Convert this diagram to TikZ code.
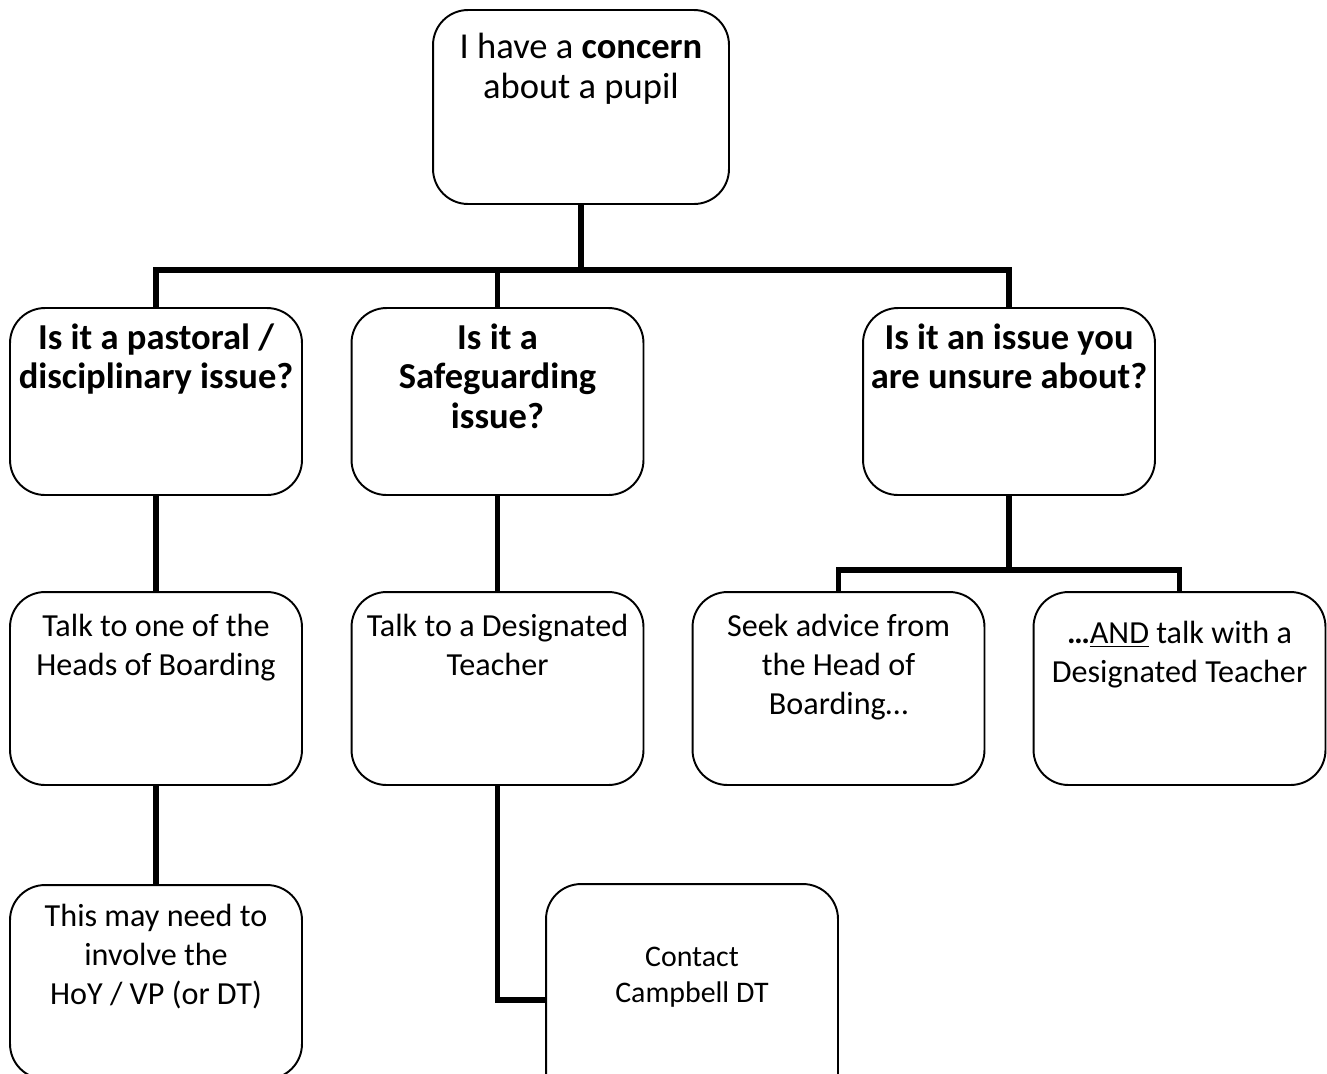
\documentclass[tikz,border=0pt]{standalone}
\usepackage{fontspec}
\setmainfont{Carlito}
\tikzset{
	box/.style={draw, line width=1.1pt, rounded corners=0.7cm, minimum width=5.84cm, inner sep=0pt},
	conn/.style={line width=3pt},
	txt/.style={anchor=north, align=center, inner sep=0pt, execute at begin node=\strut},
	small txt/.style={txt, font=\fontsize{18.3}{22.3}\selectfont}
}

\begin{document}
\begin{tikzpicture}[x=0.02cm, y=-0.02cm]
		\tikzstyle{every node}=[font=\fontsize{20.8}{22.6}\selectfont]
		\useasboundingbox (0,0) rectangle (1327,1073);
		\clip (0,0) rectangle (1327,1073);

		% Draw boxes
		\node[box, minimum width=5.92cm, minimum height=3.88cm] (concern) at (581,107) {};
		\node[box, minimum height=3.74cm] (pastoral) at (156,401.5) {};
		\node[box, minimum height=3.74cm] (safeg) at (497.5,401.5) {};
		\node[box, minimum height=3.74cm] (unsure) at (1009,401.5) {};
		\node[box, minimum height=3.86cm] (hob) at (156,688.5) {};
		\node[box, minimum height=3.86cm] (dt) at (497.5,688.5) {};
		\node[box, minimum height=3.86cm] (seek) at (838.5,688.5) {};
		\node[box, minimum height=3.86cm] (andtalk) at (1179.5,688.5) {};
		\node[box, minimum height=3.88cm] (hoy) at (156,982) {};
		\node[box, minimum height=4.64cm] (contact) at (692,1000) {};

		% Box texts
		\node[txt] (concern-t) at ([yshift=-0.48cm]concern.north) {I have a \textbf{concern}\\about a pupil};
		\node[txt] (pastoral-t) at ([yshift=-0.32cm]pastoral.north) {\bfseries Is it a pastoral /\\\bfseries disciplinary issue?};
		\node[txt] (safeg-t) at ([yshift=-0.32cm]safeg.north) {\bfseries Is it a\\\bfseries Safeguarding\\\bfseries issue?};
		\node[txt] (unsure-t) at ([yshift=-0.32cm]unsure.north) {\bfseries Is it an issue you\\\bfseries are unsure about?};
		\node[small txt] (hob-t) at ([yshift=-0.455cm]hob.north) {Talk to one of the\\Heads of Boarding};
		\node[small txt] (dt-t) at ([yshift=-0.455cm]dt.north) {Talk to a Designated\\Teacher};
		\node[small txt] (seek-t) at ([yshift=-0.455cm]seek.north) {Seek advice from\\the Head of\\Boarding…};
		\node[small txt] (andtalk-t) at ([yshift=-0.595cm]andtalk.north) {\textbf{…}\underline{AND} talk with a\\Designated Teacher};
		\node[small txt] (hoy-t) at ([yshift=-0.395cm]hoy.north) {This may need to\\involve the\\HoY / VP (or DT)};
		\node[txt, font=\fontsize{17}{20.2}\selectfont] (contact-t) at ([yshift=-1.28cm]contact.north) {Contact\\Campbell DT};

		% -----------------------------------------------------
		% Draw connectors
		\coordinate (split) at (581,270);
		\coordinate (split2) at (1009,570);
		\draw[conn] (concern.south) -- (split);
		\draw[conn] (pastoral.north) |- (split) -| (unsure.north);
		\draw[conn] (safeg.north) -- (safeg.north |- split);

		\draw[conn] (pastoral.south) -- (hob.north);
		\draw[conn] (safeg.south) -- (dt.north);
		\draw[conn] (unsure.south) -- (split2);
		\draw[conn] (seek.north) |- (split2) -| (andtalk.north);

		\draw[conn] (hob.south) -- (hoy.north);
		\draw[conn] (dt.south) |- (contact.west);
\end{tikzpicture}
\end{document}
